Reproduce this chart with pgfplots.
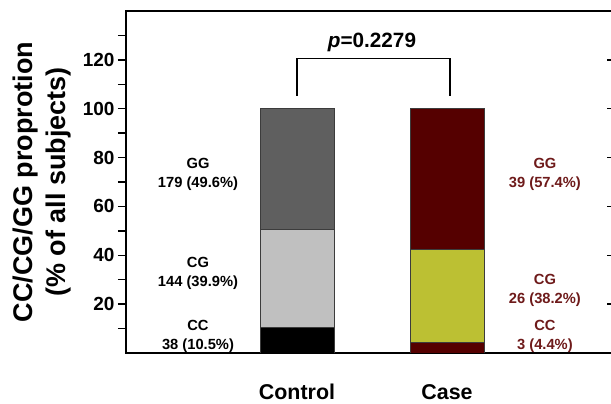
\documentclass[border=0pt]{standalone}
\usepackage{fontspec}
\setmainfont{Liberation Sans}
\usepackage{pgfplots}
\pgfplotsset{compat=1.18}
\definecolor{ctlGG}{HTML}{5F5F5F}
\definecolor{ctlCG}{HTML}{C0C0C0}
\definecolor{caseRed}{HTML}{550000}
\definecolor{caseCG}{HTML}{BCC033}
\definecolor{txtRed}{HTML}{6E1A1A}
\definecolor{edge}{HTML}{3C3C3C}
\begin{document}
\begin{tikzpicture}[x=1pt,y=1pt]
\path[use as bounding box] (0,0) rectangle (611,404);
\clip (0,0) rectangle (611,404);
\begin{axis}[
  at={(126pt,51pt)}, anchor=south west, scale only axis,
  width=487pt, height=342pt,
  xmin=-0.14, xmax=3.1067, ymin=0, ymax=140,
  ybar, bar width=74pt, bar shift=0pt,
  axis line style={line width=1.6pt},
  ytick={20,40,...,120}, minor ytick={10,30,...,130},
  ytick pos=left, tick align=outside,
  major tick length=8pt, minor tick length=8pt,
  tick style={line width=1.3pt, black},
  xtick={1,2}, xticklabels={Control,Case},
  xtick style={draw=none},
  xticklabel style={font=\fontsize{21.4}{25}\selectfont\bfseries, anchor=base, inner sep=0pt, yshift=-38.5pt},
  yticklabel style={font=\fontsize{19}{23}\selectfont\bfseries},
  /pgf/number format/assume math mode=true,
  ylabel={CC/CG/GG proprotion\\(\% of all subjects)},
  ylabel style={at={(axis description cs:-0.1715,0.5)}, anchor=center, align=center,
    font=\fontsize{27}{33}\selectfont\bfseries},
]
% Control (cumulative tops: GG=100, CG=10.5+39.9, CC=10.5)
\addplot[fill=ctlGG, draw=edge, line width=0.8pt, bar shift=0pt] coordinates {(1,100)};
\addplot[fill=ctlCG, draw=edge, line width=0.8pt, bar shift=0pt] coordinates {(1,50.4)};
\addplot[fill=black, draw=edge, line width=0.8pt, bar shift=0pt] coordinates {(1,10.5)};
% Case (cumulative tops: GG=100, CG=4.4+38.2, CC=4.4)
\addplot[fill=caseRed, draw=edge, line width=0.8pt, bar shift=0pt] coordinates {(2,100)};
\addplot[fill=caseCG, draw=edge, line width=0.8pt, bar shift=0pt] coordinates {(2,42.6)};
\addplot[fill=caseRed, draw=edge, line width=0.8pt, bar shift=0pt] coordinates {(2,4.4)};
% significance bracket
\addplot[sharp plot, black, line width=1.2pt, mark=none] coordinates {(1,105.3) (1,120.4) (2.02,120.4) (2.02,105.3)};
\node[anchor=base, font=\fontsize{20.7}{24}\selectfont\bfseries] at (axis cs:1.5,125.1) {\textit{p}=0.2279};
% annotations
\begin{scope}[every node/.style={align=center, font=\fontsize{14.7}{19}\selectfont\bfseries}]
\node at (axis cs:0.34,73.1) {GG\\179 (49.6\%)};
\node at (axis cs:0.34,32.5) {CG\\144 (39.9\%)};
\node at (axis cs:0.34,7.0) {CC\\38 (10.5\%)};
\node[text=txtRed] at (axis cs:2.653,73.3) {GG\\39 (57.4\%)};
\node[text=txtRed] at (axis cs:2.653,25.6) {CG\\26 (38.2\%)};
\node[text=txtRed] at (axis cs:2.653,7.0) {CC\\3 (4.4\%)};
\end{scope}
\end{axis}
\begin{axis}[
  at={(126pt,51pt)}, anchor=south west, scale only axis,
  width=487pt, height=342pt,
  xmin=-0.14, xmax=3.1067, ymin=0, ymax=140,
  axis x line=none, axis y line*=right,
  axis line style={line width=1.6pt},
  ytick={20,40,...,120}, yticklabels={},
  tick align=inside, major tick length=6pt,
  tick style={line width=1.3pt, black},
]
\end{axis}
\end{tikzpicture}
\end{document}
